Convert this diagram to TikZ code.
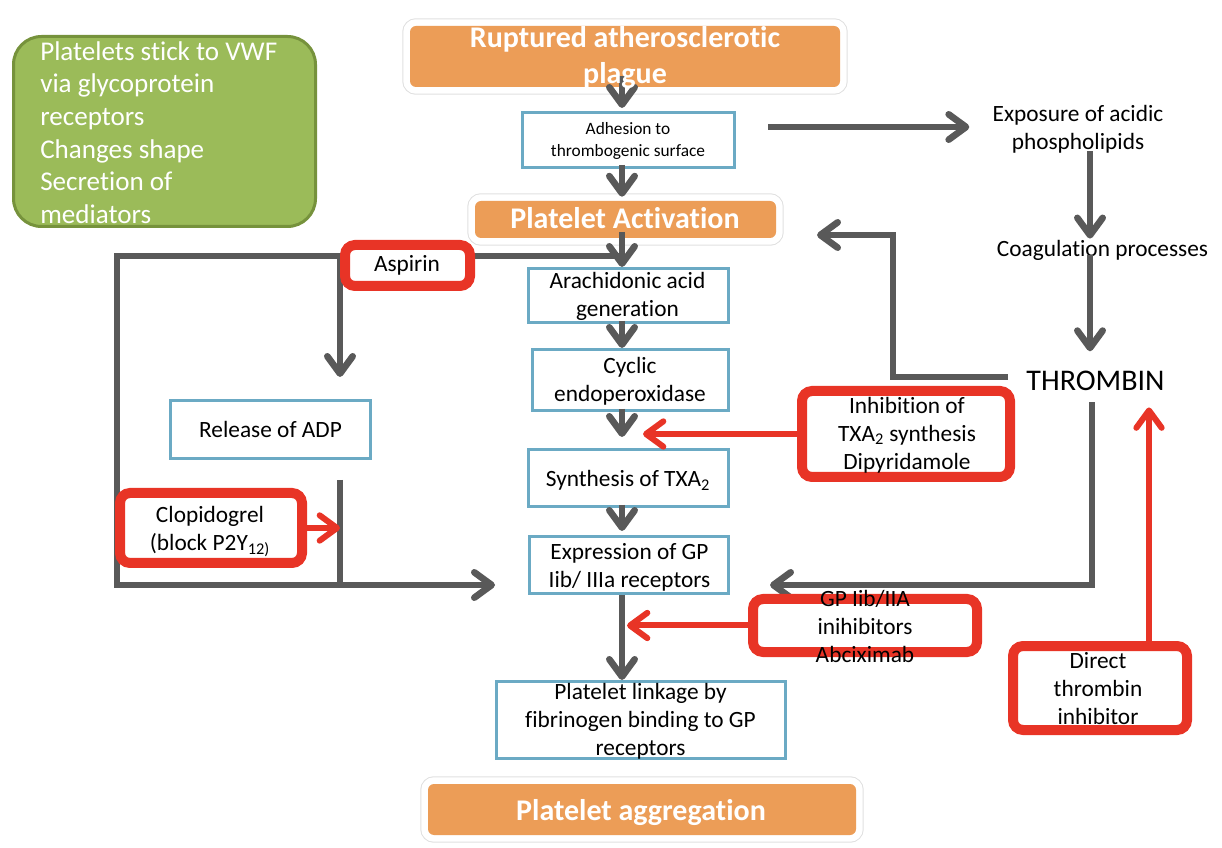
\documentclass[tikz,border=0pt]{standalone}
\usepackage{fontspec}
\setmainfont{Carlito}[Ligatures={NoCommon}]
\usetikzlibrary{arrows.meta,calc}
\definecolor{ggray}{RGB}{89,89,89}
\definecolor{rred}{RGB}{232,52,38}
\definecolor{bblue}{RGB}{107,170,196}
\definecolor{oorange}{RGB}{236,157,87}
\definecolor{gfill}{RGB}{155,187,89}
\definecolor{gdraw}{RGB}{118,146,60}
\begin{document}
\begin{tikzpicture}[x=0.75pt,y=-0.75pt,
 txt/.style={inner sep=0pt, align=center, font=\fontsize{17.5}{21}\selectfont, text=black},
 bluebox/.style={draw=bblue, line width=2.25pt, fill=white, inner sep=0pt},
 redbox/.style={draw=rred, line width=7.5pt, fill=white, rounded corners=7.5pt, inner sep=0pt},
 obox/.style={fill=oorange, rounded corners=4.5pt, inner sep=0pt,
   preaction={draw=black!12, line width=11.5pt},
   preaction={draw=white, line width=10pt}},
 otxt/.style={inner sep=0pt, text=white, font=\bfseries\fontsize{22.5}{27}\selectfont, align=center},
 garrow/.style={draw=ggray, line width=5pt, -{Straight Barb[length=13pt,width=19pt,round]}},
 gline/.style={draw=ggray, line width=5pt},
 rarrow/.style={draw=rred, line width=4.5pt, -{Straight Barb[length=13pt,width=19pt,round]}},
]
\useasboundingbox (0,0) rectangle (1222,848);

% green note
\node[draw=gdraw, fill=gfill, line width=2.25pt, rounded corners=21pt, inner sep=0pt,
      minimum width=226.5pt, minimum height=142.5pt] (note) at (164.5,131.5) {};

% orange boxes
\node[obox, minimum width=322.5pt, minimum height=45.75pt] (plague) at (625,56.5) {};
\node[obox, minimum width=225.75pt, minimum height=27.75pt] (act) at (625.5,219.5) {};
\node[obox, minimum width=321pt, minimum height=38.25pt] (agg) at (642,809.5) {};

% blue boxes
\node[bluebox, minimum width=159pt, minimum height=41.25pt] (adh) at (628.5,140) {};
\node[bluebox, minimum width=150pt, minimum height=40.5pt] (arach) at (628.5,295.5) {};
\node[bluebox, minimum width=147pt, minimum height=45.75pt] (cyclic) at (630.5,380) {};
\node[bluebox, minimum width=150pt, minimum height=42.75pt] (synth) at (628.5,478) {};
\node[bluebox, minimum width=149.25pt, minimum height=42.75pt] (expr) at (629,565) {};
\node[bluebox, minimum width=216.75pt, minimum height=57.75pt] (link) at (641,720) {};
\node[bluebox, minimum width=150pt, minimum height=43.5pt] (adp) at (270.5,429.5) {};

% free texts used by connectors
\node[txt] (expo) at (1078,129) {Exposure of acidic\\phospholipids};
\node[txt, anchor=base] (coag) at (1102.5,257) {Coagulation processes};
\node[inner sep=0pt, font=\fontsize{22.5}{27}\selectfont, anchor=base] (thr) at (1095.5,391) {THROMBIN};

% helper coordinates
\coordinate (sp) at (622,0);
\coordinate (rx) at (1090,0);
\coordinate (lx) at (340,0);
\coordinate (redx) at (1149,0);
\coordinate (jn) at (622,256);
\coordinate (lc) at (117,256);
\coordinate (eTip) at (495,585);
\coordinate (gtip) at (770,585);
\coordinate (fbtip) at (817,235);
\coordinate (a8s) at (768,127);

% gray spine arrows
\draw[garrow] ($(sp|-plague.south)+(0,-11)$) -- ($(sp|-adh.north)+(0,-3)$);
\draw[garrow] ($(sp|-adh.south)+(0,-4)$) -- ($(sp|-act.north)+(0,-4)$);
\draw[garrow] ($(sp|-act.south)+(0,-6)$) -- (sp|-arach.north);
\draw[garrow] ($(sp|-arach.south)+(0,-3)$) -- (sp|-cyclic.north);
\draw[garrow] ($(sp|-cyclic.south)+(0,-3)$) -- ($(sp|-synth.north)+(0,-11)$);
\draw[garrow] ($(sp|-synth.south)+(0,-3)$) -- ($(sp|-expr.north)+(0,-4)$);
\draw[garrow] (sp|-expr.south) -- (sp|-link.north);

% right side
\draw[garrow] (a8s) -- ($(expo.west|-a8s)+(-23,0)$);
\draw[garrow] ($(rx|-expo.south)+(0,-2)$) -- ($(rx|-coag.north)+(0,-2)$);
\draw[garrow] ($(rx|-coag.south)+(0,-6)$) -- ($(rx|-thr.north)+(0,-20)$);
\draw[garrow] ($(thr.west)+(-18,-4.5)$) -| ($(fbtip)+(76,0)$) -- (fbtip);
\draw[garrow] ($(thr.south)+(-3.5,11)$) |- (gtip);

% left loop
\draw[garrow] (jn) -- (lc) |- (eTip);
\draw[garrow] (lx|-jn) -- ($(lx|-adp.north)+(0,-22)$);
\draw[gline] ($(lx|-adp.south)+(0,20)$) -- ($(lx|-eTip)+(0,2.5)$);

% red boxes
\node[redbox, minimum width=93.75pt, minimum height=30.75pt] (aspirin) at (407.5,265.5) {};
\node[redbox, minimum width=136.5pt, minimum height=52.5pt] (clop) at (211,528) {};
\node[redbox, minimum width=156pt, minimum height=64.5pt] (inhib) at (906,434) {};
\node[redbox, minimum width=168pt, minimum height=39.75pt] (gpinh) at (865,625.5) {};
\node[redbox, minimum width=130.5pt, minimum height=63pt] (direct) at (1100,688) {};

% red arrows
\draw[rarrow] (inhib.west) -- ($(sp|-inhib.west)+(21,0)$);
\draw[rarrow] (gpinh.west) -- ($(sp|-gpinh.west)+(5,0)$);
\draw[rarrow] (clop.east) -- (lx|-clop.east);
\draw[rarrow] (redx|-direct.north) -- ($(redx|-thr.south)+(0,16)$);

% texts
\node[inner sep=0pt, anchor=north west, align=left, text=white,
      font=\fontsize{20.3}{24.5}\selectfont] (noteT) at (40,41)
  {Platelets stick to VWF\\via glycoprotein\\receptors\\Changes shape\\Secretion of\\mediators};
\node[otxt] (plagueT) at (625,58) {Ruptured atherosclerotic\\plague};
\node[otxt, anchor=base] (actT) at (625,229) {Platelet Activation};
\node[otxt, anchor=base] (aggT) at (641,820) {Platelet aggregation};
\node[txt, font=\fontsize{13}{16.5}\selectfont] (adhT) at (628,141) {Adhesion to\\thrombogenic surface};
\node[txt] (arachT) at (627.5,296) {Arachidonic acid\\generation};
\node[txt] (cyclicT) at (630,381) {Cyclic\\endoperoxidase};
\node[txt, anchor=base] (synthT) at (628,487) {Synthesis of TXA\textsubscript{2}};
\node[txt] (exprT) at (629.5,567) {Expression of GP\\Iib/ IIIa receptors};
\node[txt] (linkT) at (640.5,721) {Platelet linkage by\\fibrinogen binding to GP\\receptors};
\node[txt, anchor=base] (adpT) at (270.5,438) {Release of ADP};
\node[txt, anchor=base] (aspirinT) at (407,272) {Aspirin};
\node[txt] (clopT) at (210,532) {Clopidogrel\\(block P2Y\textsubscript{12)}};
\node[txt] (inhibT) at (907,435) {Inhibition of\\TXA\textsubscript{2} synthesis\\Dipyridamole};
\node[txt] (gpinhT) at (865,626) {GP Iib/IIA\\inihibitors\\Abciximab};
\node[txt] (directT) at (1098,689) {Direct\\thrombin\\inhibitor};
\end{tikzpicture}
\end{document}
